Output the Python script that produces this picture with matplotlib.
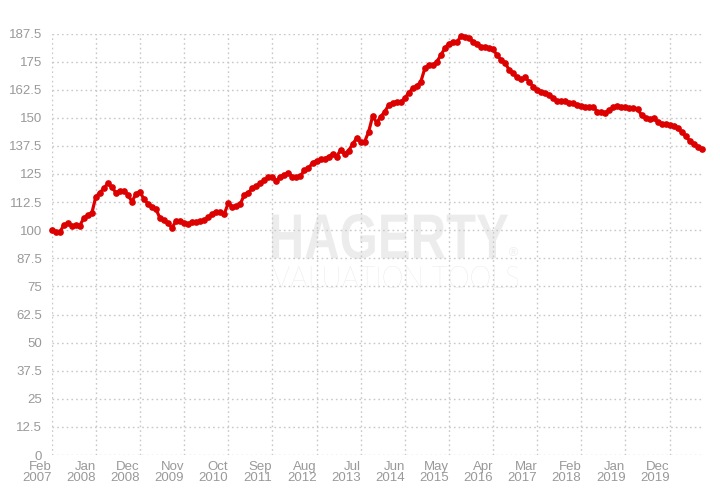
import matplotlib
matplotlib.use('Agg')
import matplotlib.pyplot as plt
from matplotlib.textpath import TextPath
from matplotlib.patches import PathPatch
from matplotlib.font_manager import FontProperties
from matplotlib.transforms import Affine2D

# monthly index values, Feb 2007 .. Aug 2020
values = [100.0, 99.3, 99.0, 102.3, 103.0, 102.0, 102.2, 102.0, 105.4, 106.8,
          107.6, 114.9, 116.7, 118.6, 120.9, 119.1, 116.7, 117.6, 117.6, 115.7,
          112.7, 116.1, 117.1, 113.7, 111.7, 110.5, 109.3, 105.3, 104.5, 103.1,
          101.1, 104.2, 104.2, 103.1, 102.6, 103.8, 103.8, 104.0, 104.5, 105.7,
          107.2, 108.2, 107.9, 107.2, 112.0, 110.5, 110.7, 111.7, 115.7, 116.7,
          118.6, 119.7, 120.9, 122.3, 123.5, 123.8, 121.9, 123.8, 124.6, 125.6,
          123.8, 123.8, 124.1, 126.8, 127.5, 130.0, 130.8, 131.5, 131.8, 132.7,
          133.9, 132.7, 135.7, 133.9, 135.4, 138.3, 140.9, 139.4, 139.4, 143.8,
          150.8, 147.8, 150.5, 152.7, 155.7, 156.7, 157.2, 157.0, 158.7, 161.2,
          163.1, 164.1, 166.1, 172.0, 173.5, 173.5, 175.0, 177.9, 181.0, 183.0,
          183.6, 183.6, 186.4, 186.1, 185.7, 183.9, 182.8, 181.6, 181.6, 180.9,
          180.5, 177.9, 175.7, 174.5, 171.3, 169.8, 168.0, 167.1, 168.0, 166.1,
          163.8, 162.4, 161.6, 160.9, 160.1, 158.7, 157.5, 157.5, 157.5, 156.7,
          156.4, 155.7, 155.2, 154.9, 154.6, 154.9, 152.7, 152.7, 152.3, 153.5,
          154.6, 155.2, 154.9, 154.6, 154.2, 154.2, 153.9, 151.2, 149.8, 149.3,
          149.8, 148.3, 147.2, 147.2, 146.8, 146.4, 145.3, 143.8, 141.9, 139.8,
          138.2, 137.1, 136.0]

tick_labels = ['Feb\n2007', 'Jan\n2008', 'Dec\n2008', 'Nov\n2009', 'Oct\n2010',
               'Sep\n2011', 'Aug\n2012', 'Jul\n2013', 'Jun\n2014', 'May\n2015',
               'Apr\n2016', 'Mar\n2017', 'Feb\n2018', 'Jan\n2019', 'Dec\n2019']
y_ticks = [0, 12.5, 25, 37.5, 50, 62.5, 75, 87.5, 100, 112.5, 125, 137.5,
           150, 162.5, 175, 187.5]

months = list(range(len(values)))
tick_pos = [11 * k for k in range(len(tick_labels))]

plt.rcParams['font.family'] = ['Liberation Sans', 'DejaVu Sans']


# squeeze a text path into a pixel box (x0, y0 from bottom-left of figure)
def boxed_text(ax, s, prop, x0, y0, w, h, color):
    path = TextPath((0, 0), s, size=50, prop=prop)
    ext = path.get_extents()
    tr = Affine2D().translate(-ext.x0, -ext.y0).scale(w / ext.width, h / ext.height)
    tr = tr.translate(x0, y0)
    patch = PathPatch(path, transform=tr, fc=color, ec='none', zorder=1,
                      clip_on=False)
    ax.add_artist(patch)


fig = plt.figure(figsize=(7.2, 5.01), dpi=100)
ax = fig.add_axes([51.7 / 720, 1 - 455 / 501, 650 / 720, 421.5 / 501])

ax.plot(months, values, color='#dd0000', lw=2.3, marker='o', ms=3.8,
        mec='#dd0000', mfc='#dd0000', zorder=3, clip_on=False)

ax.set_xlim(0, len(values) - 1)
ax.set_ylim(0, 187.5)
ax.set_yticks(y_ticks)
ax.set_yticklabels(['%g' % v for v in y_ticks])
ax.set_xticks(tick_pos)
ax.set_xticklabels(tick_labels, ha='right', linespacing=0.95)

for s in ax.spines.values():
    s.set_visible(False)
ax.tick_params(length=0, colors='#999999', labelsize=9.5)
ax.tick_params(axis='y', pad=7)
ax.tick_params(axis='x', pad=4)
ax.grid(True, color='#c8c8c8', ls=(0, (1.2, 2.2)), lw=1.0, zorder=0)

# watermark
boxed_text(ax, 'HAGERTY', FontProperties(family='Liberation Sans', weight='bold'),
           272, 501 - 259, 236, 45, '#ececec')
boxed_text(ax, '\u00ae', FontProperties(family='Liberation Sans'),
           509, 501 - 256, 9, 9, '#ececec')
boxed_text(ax, 'VALUATION TOOLS', FontProperties(family='Lato', weight='light'),
           273, 501 - 288, 245, 22, '#dedede')

plt.savefig('out.png', dpi=100)
plt.close()
